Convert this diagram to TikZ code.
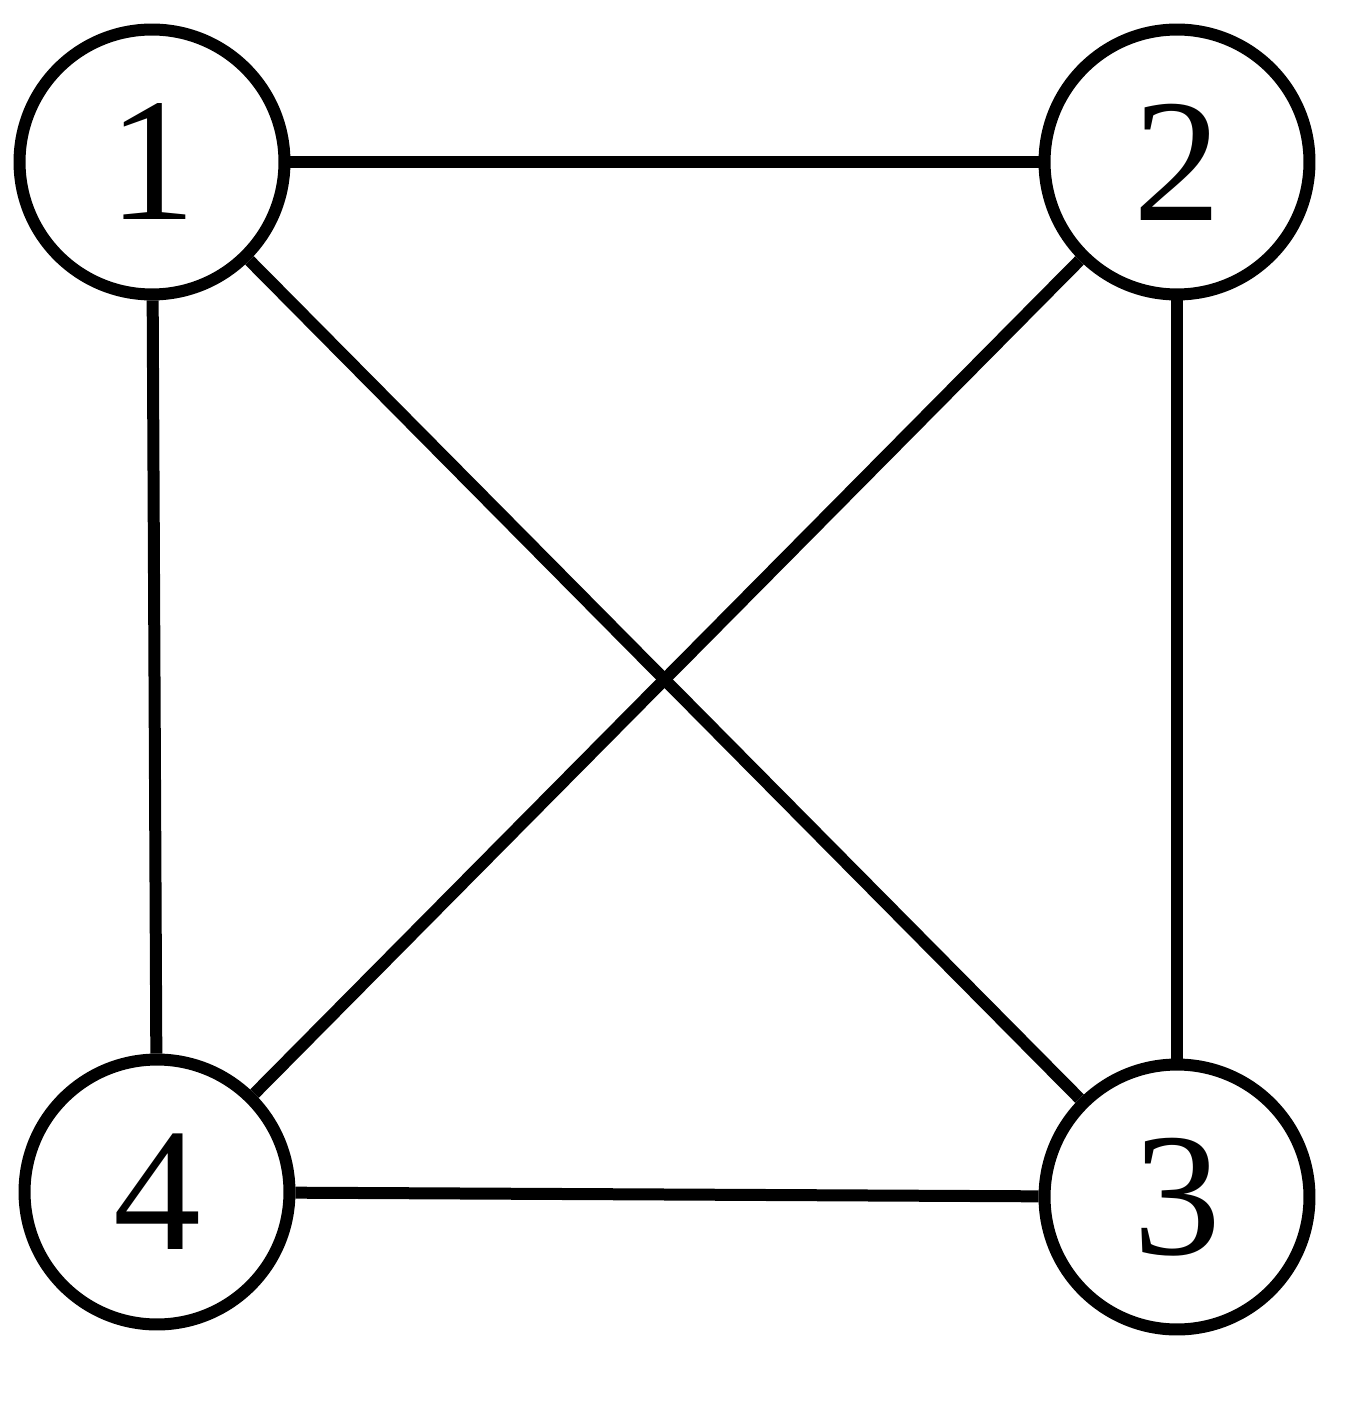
\documentclass[tikz,border=0pt]{standalone}
\usepackage{fontspec}
\setmainfont{Liberation Serif}
\begin{document}
\begin{tikzpicture}[x=0.02cm,y=-0.02cm,
  vert/.style={circle,draw,line width=0.24cm,minimum size=5.3cm,inner sep=0pt,font=\fontsize{100}{100}\selectfont},
  edge/.style={line width=0.24cm}]
\useasboundingbox (0,0) rectangle (1347,1419);
\node[vert] (n1) at (152,162) {1};
\node[vert] (n2) at (1177,162) {2};
\node[vert] (n3) at (1177,1197) {3};
\node[vert] (n4) at (157,1192) {4};
\draw[edge] (n1) -- (n2);
\draw[edge] (n2) -- (n3);
\draw[edge] (n3) -- (n4);
\draw[edge] (n4) -- (n1);
\draw[edge] (n1) -- (n3);
\draw[edge] (n2) -- (n4);
\end{tikzpicture}
\end{document}
